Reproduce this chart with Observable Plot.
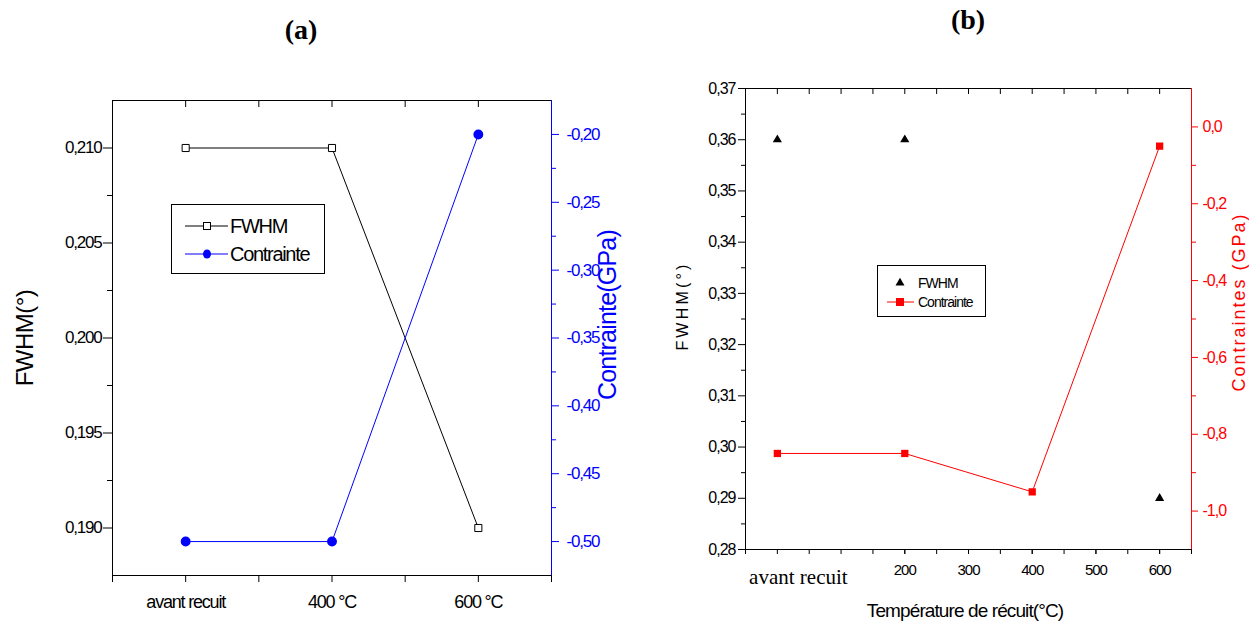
<!DOCTYPE html>
<html><head><meta charset="utf-8">
<script src="https://cdn.jsdelivr.net/npm/d3@7"></script>
<script src="https://cdn.jsdelivr.net/npm/@observablehq/plot@0.6"></script>
<style>
html,body{margin:0;padding:0;background:#fff;}
#root{position:relative;width:1256px;height:621px;overflow:hidden;font-family:"Liberation Sans",Arial,sans-serif;background:#fff;}
.t{position:absolute;white-space:nowrap;line-height:1;}
.rot{transform:translate(-50%,-50%) rotate(-90deg);}
.ctr{transform:translate(-50%,-50%);}
</style></head><body><div id="root"></div>
<script>
// ---------- data: panel (a) ----------
const catsA = ["avant recuit", "400 °C", "600 °C"];
const fwhmA = [0.210, 0.210, 0.190];
const contrainteA = [-0.50, -0.50, -0.20];
const leftTicksA = [0.190, 0.195, 0.200, 0.205, 0.210];
const leftMinorA = [0.1925, 0.1975, 0.2025, 0.2075];
const rightTicksA = [-0.50, -0.45, -0.40, -0.35, -0.30, -0.25, -0.20];
const rightMinorA = [-0.475, -0.425, -0.375, -0.325, -0.275, -0.225];
const xTicksA = [0.5, 1, 1.5, 2, 2.5, 3, 3.5];

// ---------- data: panel (b) ----------
const avantLabel = "avant recuit";           // x = 0 stands for "avant recuit"
const fwhmTempB = [0, 200, 600];
const fwhmB = [0.36, 0.36, 0.29];
const contrainteTempB = [0, 200, 400, 600];
const contrainteB = [-0.85, -0.85, -0.95, -0.05];
const leftTicksB = [0.28, 0.29, 0.30, 0.31, 0.32, 0.33, 0.34, 0.35, 0.36, 0.37];
const leftMinorB = [0.285, 0.295, 0.305, 0.315, 0.325, 0.335, 0.345, 0.355, 0.365];
const rightTicksB = [-1.0, -0.8, -0.6, -0.4, -0.2, 0.0];
const rightMinorB = [-0.9, -0.7, -0.5, -0.3, -0.1];
const xLabelsB = [200, 300, 400, 500, 600];
const xTicksB = [-50, 0, 50, 100, 150, 200, 250, 300, 350, 400, 450, 500, 550, 600, 650];

const BLUE = "#0000ff", RED = "#ff0000";
const root = document.getElementById("root");
const num = (d, n) => (Math.abs(d) < 1e-12 ? 0 : d).toFixed(n).replace(".", ",");

function place(el, left, top) {
  el.style.position = "absolute";
  el.style.left = left + "px";
  el.style.top = top + "px";
  root.appendChild(el);
}
function label(text, x, y, css, cls) {
  const d = document.createElement("div");
  d.className = "t " + (cls || "ctr");
  d.textContent = text;
  d.style.cssText += css;
  d.style.left = x + "px";
  d.style.top = y + "px";
  root.appendChild(d);
}

// ---------- panel (a) ----------
const dataA = catsA.map((c, i) => ({pos: i + 1, cat: c, fwhm: fwhmA[i], c: contrainteA[i]}));
const frameA = {width: 640, height: 621, marginLeft: 112, marginRight: 89, marginTop: 100, marginBottom: 46};
const innerHA = frameA.height - frameA.marginTop - frameA.marginBottom;
const yDomA = [0.1875, 0.2125];
const tickA = (yDomA[1] - yDomA[0]) * 7 / innerHA;   // 7 px expressed in y units
const xA = {type: "linear", domain: [0.5, 3.5], axis: null};
const styleA = {background: "transparent", fontFamily: "Liberation Sans, Arial, sans-serif", fontSize: "17px", letterSpacing: "-1.2px", overflow: "visible"};

const a1 = Plot.plot({
  ...frameA, x: xA, y: {domain: yDomA, axis: null}, style: styleA,
  marks: [
    Plot.ruleY([yDomA[0]], {stroke: "black"}),
    Plot.ruleY([yDomA[1]], {stroke: "black"}),
    Plot.ruleX([0.5], {stroke: "black"}),
    Plot.axisY(leftTicksA, {tickSize: 9, tickPadding: 2, tickFormat: d => num(d, 3), label: null}),
    Plot.axisY(leftMinorA, {tickSize: 5, tickFormat: () => "", label: null}),
    Plot.axisX(xTicksA, {tickSize: 7, tickPadding: 13, fontSize: 18, tickFormat: d => Number.isInteger(d) ? catsA[d - 1] : "", label: null}),
    Plot.ruleX(xTicksA, {x: d => d, y1: () => yDomA[1], y2: () => yDomA[1] - tickA, stroke: "black"}),   // inward top ticks
    Plot.line(dataA, {x: "pos", y: "fwhm", stroke: "black", strokeWidth: 1}),
    Plot.dot(dataA, {x: "pos", y: "fwhm", symbol: "square", r: 4, fill: "white", stroke: "black", strokeWidth: 1})
  ]
});
place(a1, 0, 0);

const a2 = Plot.plot({
  ...frameA, x: xA, y: {domain: [-0.525, -0.175], axis: null}, style: styleA,
  marks: [
    Plot.ruleX([3.5], {stroke: BLUE}),
    Plot.axisY(rightTicksA, {anchor: "right", tickSize: 7, tickPadding: 8, color: BLUE, tickFormat: d => num(d, 2), label: null}),
    Plot.axisY(rightMinorA, {anchor: "right", tickSize: 4, color: BLUE, tickFormat: () => "", label: null}),
    Plot.line(dataA, {x: "pos", y: "c", stroke: BLUE, strokeWidth: 1}),
    Plot.dot(dataA, {x: "pos", y: "c", r: 4.2, fill: BLUE, stroke: BLUE})
  ]
});
place(a2, 0, 0);

// ---------- panel (b) ----------
const fwhmDataB = fwhmTempB.map((t, i) => ({t, v: fwhmB[i]}));
const cDataB = contrainteTempB.map((t, i) => ({t, v: contrainteB[i]}));
const frameB = {width: 616, height: 621, marginLeft: 105, marginRight: 65, marginTop: 88, marginBottom: 72};
const innerHB = frameB.height - frameB.marginTop - frameB.marginBottom;
const yDomB = [0.28, 0.37];
const tickB = (yDomB[1] - yDomB[0]) * 6 / innerHB;
const xB = {type: "linear", domain: [-50, 650], axis: null};
const styleB = {background: "transparent", fontFamily: "Liberation Sans, Arial, sans-serif", fontSize: "16px", letterSpacing: "-1px", overflow: "visible"};

const b1 = Plot.plot({
  ...frameB, x: xB, y: {domain: yDomB, axis: null}, style: styleB,
  marks: [
    Plot.ruleY([yDomB[0]], {stroke: "black"}),
    Plot.ruleY([yDomB[1]], {stroke: "black"}),
    Plot.ruleX([-50], {stroke: "black"}),
    Plot.axisY(leftTicksB, {tickSize: 7, tickPadding: 3, tickFormat: d => num(d, 2), label: null}),
    Plot.axisY(leftMinorB, {tickSize: 4, tickFormat: () => "", label: null}),
    Plot.axisX(xTicksB, {tickSize: 5, tickFormat: () => "", label: null}),
    Plot.axisX(xLabelsB, {tickSize: 5, tickPadding: 10, fontSize: 15, tickFormat: d => String(d), label: null}),
    Plot.ruleX(xTicksB, {x: d => d, y1: () => yDomB[1], y2: () => yDomB[1] - tickB, stroke: "black"}),   // inward top ticks
    Plot.text([{t: 0, label: avantLabel}], {x: "t", text: "label", frameAnchor: "bottom", dx: 21, dy: 28, fontSize: 21, fontFamily: "Liberation Serif, Times New Roman, serif", lineAnchor: "middle"}),
    Plot.dot(fwhmDataB, {x: "t", y: "v", symbol: "triangle", r: 3.4, fill: "black"})
  ]
});
b1.querySelectorAll("text").forEach(t => { if (t.textContent === avantLabel) t.style.letterSpacing = "0px"; });
place(b1, 640, 0);

const b2 = Plot.plot({
  ...frameB, x: xB, y: {domain: [-1.1, 0.1], axis: null}, style: styleB,
  marks: [
    Plot.ruleX([650], {stroke: RED}),
    Plot.axisY(rightTicksB, {anchor: "right", tickSize: 6, tickPadding: 5, color: RED, tickFormat: d => num(d, 1), label: null}),
    Plot.axisY(rightMinorB, {anchor: "right", tickSize: 4, color: RED, tickFormat: () => "", label: null}),
    Plot.line(cDataB, {x: "t", y: "v", stroke: RED, strokeWidth: 1}),
    Plot.dot(cDataB, {x: "t", y: "v", symbol: "square", r: 4.1, fill: RED})
  ]
});
place(b2, 640, 0);

// ---------- titles ----------
label("(a)", 301, 30, "font-family:'Liberation Serif','Times New Roman',serif;font-weight:bold;font-size:28px;");
label("(b)", 968, 20, "font-family:'Liberation Serif','Times New Roman',serif;font-weight:bold;font-size:28px;");
label("FWHM(°)", 25, 338, "font-size:24px;letter-spacing:-0.5px;", "rot");
label("Contrainte(GPa)", 607, 315, "font-size:25px;letter-spacing:-0.8px;color:" + BLUE + ";", "rot");
label("FWHM(°)", 683, 306, "font-size:16px;letter-spacing:3.2px;", "rot");
label("Contraintes (GPa)", 1239, 302, "font-size:18px;letter-spacing:2px;color:" + RED + ";", "rot");
label("Température de récuit(°C)", 965, 610, "font-size:19px;letter-spacing:-0.9px;");

// ---------- legends ----------
function legend(left, top, w, h, rows, font) {
  const svg = d3.create("svg").attr("width", w).attr("height", h).style("overflow", "visible");
  svg.append("rect").attr("x", 0.5).attr("y", 0.5).attr("width", w - 1).attr("height", h - 1)
    .attr("fill", "white").attr("stroke", "black");
  rows.forEach(r => {
    const g = svg.append("g").attr("transform", `translate(0,${r.y})`);
    if (r.line) g.append("line").attr("x1", r.line[0]).attr("x2", r.line[1]).attr("stroke", r.color).attr("stroke-width", 1);
    const sym = r.symbol;
    if (sym === "square") g.append("rect").attr("x", r.mx - r.s / 2).attr("y", -r.s / 2).attr("width", r.s).attr("height", r.s).attr("fill", r.fill).attr("stroke", r.color);
    if (sym === "circle") g.append("ellipse").attr("cx", r.mx).attr("cy", 0).attr("rx", r.s / 2).attr("ry", r.s / 2 + 0.6).attr("fill", r.color);
    if (sym === "triangle") g.append("path").attr("transform", `translate(${r.mx},0)`).attr("d", d3.symbol(d3.symbolTriangle, r.s * r.s * 0.433)()).attr("fill", r.color);
    g.append("text").attr("x", r.tx).attr("y", 0).attr("dy", "0.35em").text(r.text)
      .style("font-family", "Liberation Sans, Arial, sans-serif").style("font-size", font.size).style("letter-spacing", font.ls).attr("fill", "black");
  });
  place(svg.node(), left, top);
}
legend(171, 204, 154, 70, [
  {y: 22, line: [14, 57], color: "black", symbol: "square", fill: "white", s: 7, mx: 36, tx: 59, text: "FWHM"},
  {y: 50, line: [14, 57], color: BLUE, symbol: "circle", s: 8, mx: 36, tx: 59, text: "Contrainte"}
], {size: "20px", ls: "-1.3px"});
legend(877, 265, 109, 52, [
  {y: 18, color: "black", symbol: "triangle", s: 9, mx: 23, tx: 41, text: "FWHM"},
  {y: 37, line: [10, 37], color: RED, symbol: "square", fill: RED, s: 7, mx: 23, tx: 41, text: "Contrainte"}
], {size: "14px", ls: "-1px"});
</script></body></html>
